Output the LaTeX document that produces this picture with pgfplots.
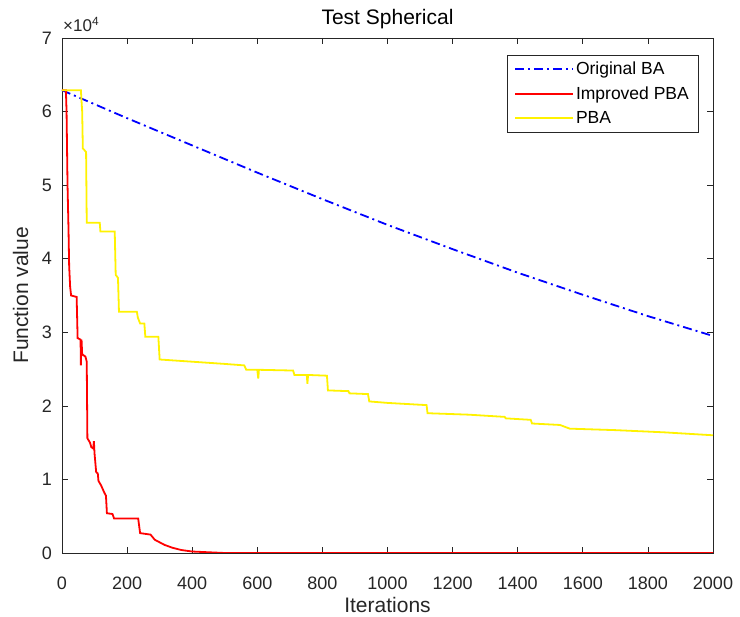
\documentclass[border=0pt]{standalone}
\usepackage{pgfplots}
\pgfplotsset{compat=1.18}
\usepackage{fontspec}
\setmainfont{Liberation Sans}
\definecolor{axgray}{gray}{0.15}
\begin{document}
\begin{tikzpicture}
\useasboundingbox (-62pt,-64pt) rectangle (678pt,553pt);
\begin{axis}[
  name=ax,
  at={(0pt,0pt)}, anchor=south west,
  scale only axis, width=651pt, height=515pt,
  xmin=0, xmax=2000, ymin=0, ymax=7,
  xtick={0,200,...,2000}, ytick={0,1,...,7},
  tick align=inside, major tick length=6pt,
  axis line style={axgray, line width=0.7pt},
  every tick/.style={axgray, line width=0.7pt},
  tick label style={font=\fontsize{18}{21}\selectfont, text=axgray},
  /pgf/number format/assume math mode=true,
  /pgf/number format/1000 sep={},
  xticklabel style={anchor=base, yshift=-37pt},
  yticklabel style={anchor=east, inner sep=0pt, xshift=-10pt},
  xlabel={Iterations}, ylabel={Function value},
  label style={font=\fontsize{21}{25}\selectfont, text=axgray},
  xlabel style={at={(axis description cs:0.5,0)}, anchor=base, yshift=-60pt},
  ylabel style={at={(axis description cs:-0.0522,0.5)}, anchor=base},
  title={Test Spherical},
  title style={font=\fontsize{21}{25}\selectfont, at={(axis description cs:0.5,1)}, anchor=base, yshift=7pt},
  legend style={at={(axis description cs:0.977,0.967)}, anchor=north east,
    font=\fontsize{17.5}{21}\selectfont, draw=axgray,
    inner xsep=7pt, inner ysep=5pt, row sep=6.5pt, cells={anchor=west}},
  legend image code/.code={\draw[#1, line width=2pt] (0pt,0pt) -- (58pt,0pt);},
  clip=true,
]
\addplot[draw=blue, color=blue, line width=1.8pt, dash pattern=on 9pt off 4pt on 2pt off 4pt] coordinates {
(0,6.29) (200,5.91) (400,5.54) (600,5.17) (800,4.81) (1000,4.46)
(1200,4.13) (1400,3.81) (1600,3.51) (1800,3.22) (2000,2.95)};
\addlegendentry{Original BA}
\addplot[draw=red, color=red, line width=1.8pt] coordinates {
(0,6.29) (12,6.29) (14,6.0) (17,5.0) (20,4.4) (22,3.9) (25,3.62) (28,3.5)
(45,3.48) (48,2.92) (57,2.90) (58,2.55) (60,2.9) (62,2.70) (72,2.67) (76,2.60)
(78,1.56) (86,1.50) (90,1.44) (96,1.42) (98,1.52) (100,1.35) (105,1.10) (110,1.08)
(112,0.98) (120,0.92) (130,0.82) (135,0.78) (138,0.54) (155,0.53) (160,0.47)
(234,0.47) (240,0.27) (272,0.25) (285,0.18) (315,0.11) (340,0.07) (367,0.04)
(400,0.02) (450,0.01) (500,0.0) (2000,0.0)};
\addlegendentry{Improved PBA}
\addplot[draw=yellow, color=yellow, line width=1.8pt] coordinates {
(0,6.29) (58,6.29) (62,6.0) (64,5.5) (74,5.45) (76,4.49) (116,4.49) (118,4.37)
(162,4.37) (165,3.78) (172,3.74) (175,3.28) (230,3.28) (233,3.20) (240,3.12)
(253,3.12) (256,2.94) (296,2.94) (300,2.63) (400,2.60) (500,2.57) (560,2.55)
(566,2.49) (600,2.49) (603,2.37) (605,2.49) (710,2.48) (714,2.42) (752,2.42)
(754,2.30) (756,2.42) (814,2.41) (817,2.21) (880,2.20) (883,2.17) (940,2.16)
(944,2.06) (1000,2.04) (1120,2.01) (1123,1.90) (1250,1.88) (1360,1.85)
(1363,1.83) (1440,1.81) (1444,1.76) (1530,1.74) (1560,1.69) (1700,1.67)
(1850,1.64) (2000,1.60)};
\addlegendentry{PBA}
\end{axis}
\node[anchor=base west, font=\fontsize{17}{20}\selectfont, text=axgray, inner sep=0pt, xshift=1pt, yshift=6pt] at (ax.north west) {×10\textsuperscript{4}};
\end{tikzpicture}
\end{document}
